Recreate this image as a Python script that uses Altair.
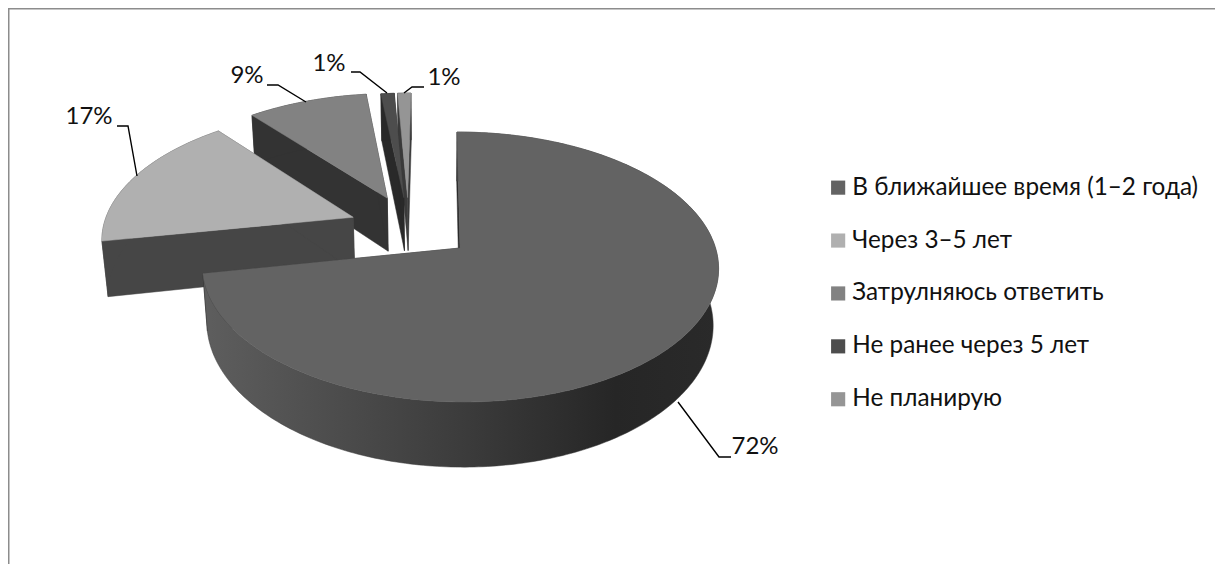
import numpy as np
import pandas as pd
import altair as alt

legend_labels = ["В ближайшее время (1–2 года)", "Через 3–5 лет", "Затрулняюсь ответить", "Не ранее через 5 лет", "Не планирую"]
shares = [72, 17, 9, 1, 1]
pct_labels = ["72%", "17%", "9%", "1%", "1%"]
top_colors = ["#636363", "#b0b0b0", "#828282", "#4d4d4d", "#959595"]
wall_colors = ["#2b2b2b", "#464646", "#333333", "#292929", "#3a3a3a"]

# page-pixel camera model of the tilted, exploded pie
W, H = 1207, 556
OX, OY = 8, 8
K, CX, CY, A, B = 0.1407, 436.0, 248.0, 255.5, 132.3
DEPTH, CONV, EXPLODE = 56.0, 0.0187, 0.246
SIDE_SHIFT = [0.0, -0.008, -0.008, -0.014, -0.014]
BACK_SHIFT = [0.0, 0.0, 0.015, 0.0, 0.0]


def proj(X, Y, z=0.0):
    w = 1 + K * Y
    sx = CX + A * X / w
    sy = CY - B * Y / w
    return sx + (CX - sx) * CONV * z / w, sy + DEPTH * z / w


def wedge(i):
    start = sum(shares[:i]) / 100 * 2 * np.pi
    end = sum(shares[: i + 1]) / 100 * 2 * np.pi
    mid0 = shares[0] / 200 * 2 * np.pi
    main_x, main_y = 24 / A, 0.0
    cx0 = main_x - EXPLODE * np.sin(mid0)
    cy0 = main_y - EXPLODE * np.cos(mid0)
    mid = (start + end) / 2
    ax = cx0 + EXPLODE * np.sin(mid) + SIDE_SHIFT[i]
    ay = cy0 + EXPLODE * np.cos(mid) + BACK_SHIFT[i]
    t = np.linspace(start, end, max(6, int(shares[i] * 4)))
    return ax, ay, ax + np.sin(t), ay + np.cos(t)


def frame(pts):
    pts = list(pts) + [pts[0]]
    return pd.DataFrame({"x": [p[0] for p in pts], "y": [p[1] for p in pts], "i": range(len(pts))})


x_scale = alt.Scale(domain=[OX, OX + W], range=[0, W], nice=False, zero=False)
y_scale = alt.Scale(domain=[OY, OY + H], range=[0, H], nice=False, zero=False)
X = alt.X("x:Q", scale=x_scale, axis=None)
Y = alt.Y("y:Q", scale=y_scale, axis=None)


def shape(pts, fill):
    stroke = fill if isinstance(fill, str) else "#3a3a3a"
    return alt.Chart(frame(pts)).mark_line(fill=fill, stroke=stroke, strokeWidth=0.5, clip=False).encode(
        x=X, y=Y, order=alt.Order("i:Q"))


rim_main = alt.Gradient(
    gradient="linear", x1=0, x2=1, y1=0, y2=0,
    stops=[alt.GradientStop(offset=0, color="#5e5e5e"),
           alt.GradientStop(offset=0.5, color="#3c3c3c"),
           alt.GradientStop(offset=0.8, color="#262626"),
           alt.GradientStop(offset=1, color="#2a2a2a")])

layers = []
for i in [4, 3, 2, 1, 0]:
    ax, ay, ex, ey = wedge(i)
    for k in (0, -1):
        layers.append(shape([proj(ax, ay), proj(ex[k], ey[k]), proj(ex[k], ey[k], 1), proj(ax, ay, 1)], wall_colors[i]))
    rim = [proj(a, b) for a, b in zip(ex, ey)] + [proj(a, b, 1) for a, b in zip(ex[::-1], ey[::-1])]
    layers.append(shape(rim, rim_main if i == 0 else wall_colors[i]))
    layers.append(shape([proj(ax, ay)] + [proj(a, b) for a, b in zip(ex, ey)], top_colors[i]))

leaders = [
    [(678, 402), (719, 457), (731, 457)],
    [(137, 176), (128, 126), (117, 126)],
    [(306, 102), (278, 85), (267, 85)],
    [(387, 93), (360, 72), (351, 72)],
    [(404, 93), (412, 87), (424, 87)],
]
for pts in leaders:
    d = pd.DataFrame({"x": [p[0] for p in pts], "y": [p[1] for p in pts], "i": range(3)})
    layers.append(alt.Chart(d).mark_line(color="#000000", strokeWidth=1.4).encode(x=X, y=Y, order=alt.Order("i:Q")))

lab = pd.DataFrame({"x": [755, 89, 247, 329, 444], "y": [447, 117, 76, 64, 78], "t": pct_labels})
layers.append(alt.Chart(lab).mark_text(font="Lato", fontSize=24, color="#111111", align="center", baseline="middle").encode(
    x=X, y=Y, text="t:N"))

# frame: only the top and left edges are drawn in the reference
layers.append(alt.Chart(pd.DataFrame({"a": [0]})).mark_rule(color="#8c8c8c", strokeWidth=3).encode(
    x=alt.value(0), x2=alt.value(W), y=alt.value(0)))
layers.append(alt.Chart(pd.DataFrame({"a": [0]})).mark_rule(color="#8c8c8c", strokeWidth=3).encode(
    x=alt.value(0), y=alt.value(0), y2=alt.value(H)))

leg = pd.DataFrame({"c": legend_labels, "x": [600] * 5, "y": [300] * 5})
layers.append(alt.Chart(leg).mark_square(size=0, opacity=0).encode(
    x=X, y=Y,
    fill=alt.Fill("c:N", scale=alt.Scale(domain=legend_labels, range=top_colors), sort=None,
                  legend=alt.Legend(title=None, orient="none", legendX=818, legendY=167.5,
                                    symbolType="square", symbolSize=200, symbolOpacity=1, symbolStrokeWidth=0,
                                    labelFont="Lato", labelFontSize=24.3, labelColor="#111111", labelLimit=400,
                                    labelOffset=2, rowPadding=27.9, symbolOffset=0))))

chart = alt.layer(*layers).properties(
    width=W, height=H, padding=0, background="#ffffff", autosize=alt.AutoSizeParams(type="none")
).configure_view(stroke="transparent", strokeWidth=0)

chart.save("out.html", embed_options={"renderer": "svg", "actions": False})
